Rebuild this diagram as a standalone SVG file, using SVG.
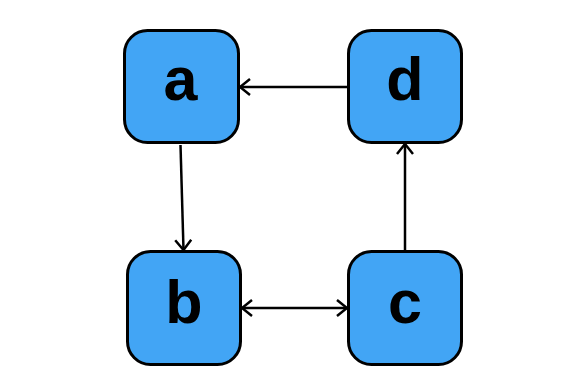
<svg xmlns="http://www.w3.org/2000/svg" width="575" height="386" viewBox="0 0 575 386">
<style>
.node rect{fill:#42A5F5;stroke:#000;stroke-width:3}
.node text{font-family:"Liberation Sans",Arial,sans-serif;font-weight:bold;font-size:61px;fill:#000;text-anchor:middle}
.edge{stroke:#000;stroke-width:2.5;fill:none}
</style>
<defs>
<marker id="ah" viewBox="0 0 12 20" refX="11" refY="10" markerWidth="12" markerHeight="20" markerUnits="userSpaceOnUse" orient="auto-start-reverse">
<path d="M1,2 L11,10 L1,18" fill="none" stroke="#000" stroke-width="2.5"/>
</marker>
</defs>
<g id="connectors">
<line class="edge" x1="180.5" y1="145" x2="183.5" y2="250" marker-end="url(#ah)"/>
<line class="edge" x1="347" y1="87" x2="240" y2="87" marker-end="url(#ah)"/>
<line class="edge" x1="405" y1="250" x2="405" y2="144" marker-end="url(#ah)"/>
<line class="edge" x1="242" y1="308" x2="347" y2="308" marker-start="url(#ah)" marker-end="url(#ah)"/>
</g>
<g id="a" class="node"><rect x="124.5" y="30.5" width="114" height="112" rx="23"/><text x="180.5" y="100">a</text></g>
<g id="d" class="node"><rect x="348.5" y="30.5" width="113" height="112" rx="23"/><text x="405" y="100">d</text></g>
<g id="b" class="node"><rect x="127.5" y="251.5" width="113" height="113" rx="23"/><text x="184" y="323">b</text></g>
<g id="c" class="node"><rect x="348.5" y="251.5" width="113" height="113" rx="23"/><text x="405" y="323">c</text></g>
</svg>
